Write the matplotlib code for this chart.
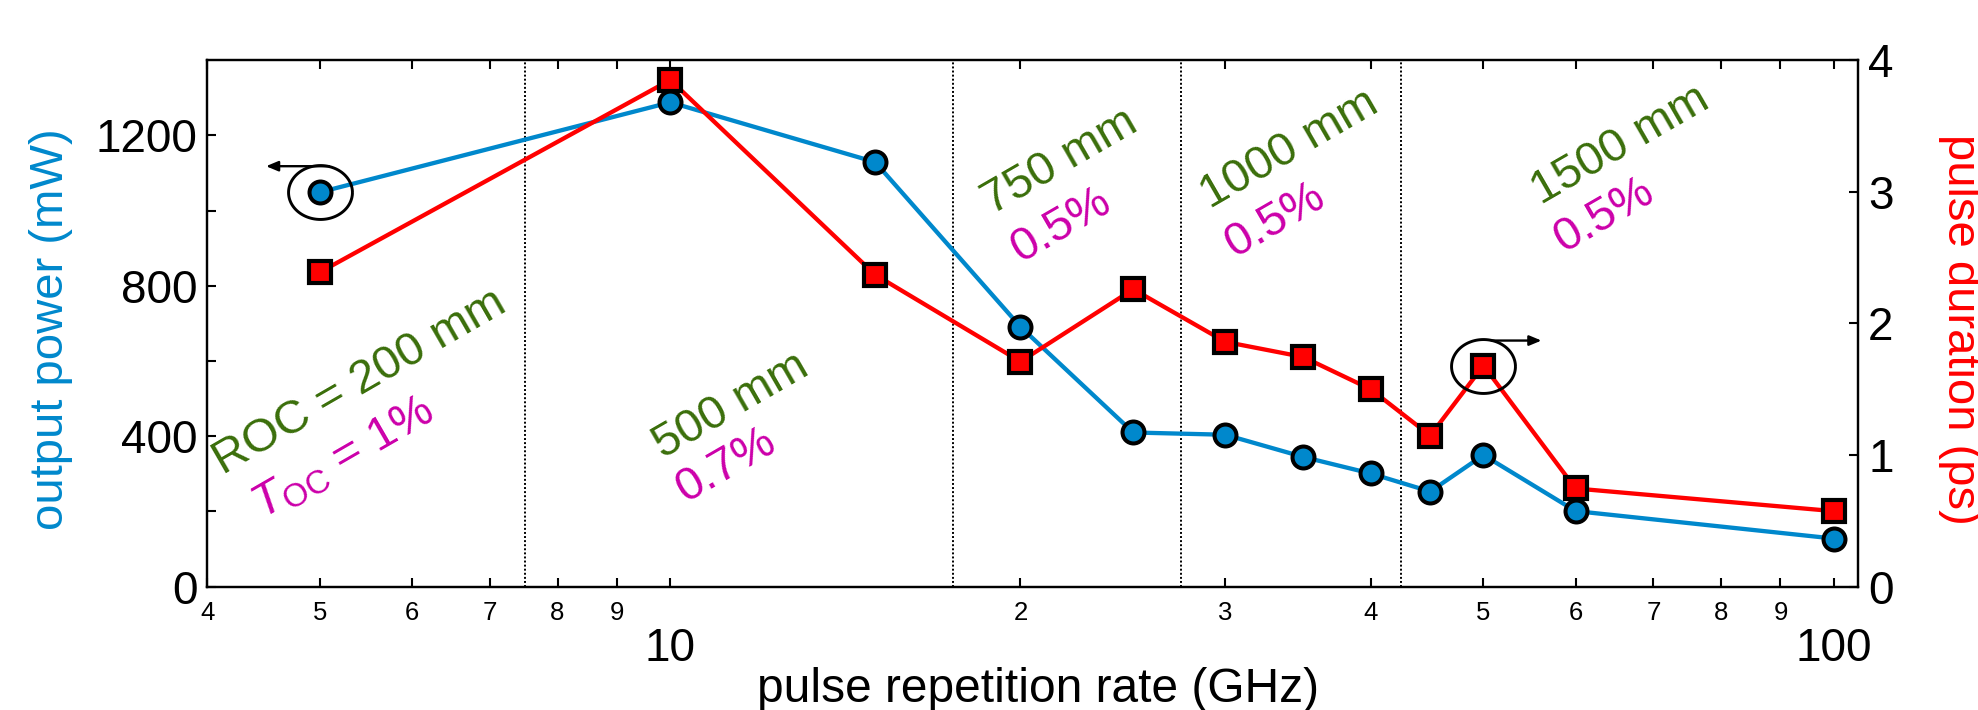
import numpy as np
import matplotlib
matplotlib.use('Agg')
import matplotlib.pyplot as plt
from matplotlib.path import Path
import matplotlib.transforms as mtransforms

plt.rcParams['font.family'] = ['Liberation Sans', 'DejaVu Sans']
plt.rcParams['mathtext.fontset'] = 'custom'
plt.rcParams['mathtext.rm'] = 'Liberation Sans'
plt.rcParams['mathtext.it'] = 'Liberation Sans:italic'

# ---------------- data ----------------
rep_rate_ghz = [5, 10, 15, 20, 25, 30, 35, 40, 45, 50, 60, 100]
output_power_mw = [1049, 1288, 1129, 691, 410, 404, 345, 301, 253, 350, 201, 128]
pulse_duration_ps = [2.39, 3.85, 2.37, 1.71, 2.26, 1.86, 1.745, 1.50, 1.148, 1.68, 0.746, 0.574]
roc_boundaries_ghz = [7.5, 17.5, 27.5, 42.5]

x_major_ticks = [10, 100]
x_major_labels = ['10', '100']
x_minor_ticks = [4, 5, 6, 7, 8, 9, 20, 30, 40, 50, 60, 70, 80, 90]
x_minor_labels = ['4', '5', '6', '7', '8', '9', '2', '3', '4', '5', '6', '7', '8', '9']
left_ticks = [0, 200, 400, 600, 800, 1000, 1200]
left_labels = ['0', '', '400', '', '800', '', '1200']
right_ticks = [0, 1, 2, 3, 4]
right_labels = ['0', '1', '2', '3', '4']

roc_labels = ['ROC = 200 mm', '500 mm', '750 mm', '1000 mm', '1500 mm']
toc_labels = [r'$\mathit{T}_{\mathrm{OC}}$ = 1%', '0.7%', '0.5%', '0.5%', '0.5%']

x_label = 'pulse repetition rate (GHz)'
left_label = 'output power (mW)'
right_label = 'pulse duration (ps)'

# ---------------- layout / style ----------------
roc_label_pos = [(4.13, 297), (9.85, 339), (18.9, 989), (29.1, 1004), (56.0, 1016)]
toc_label_pos = [(4.46, 179), (10.3, 222), (20.0, 862), (30.5, 874), (58.5, 886)]

BLUE = '#0088cc'
RED = '#ff0000'
GREEN = '#3a6e0a'
MAGENTA = '#cc00aa'

fig = plt.figure(figsize=(19.78, 7.10), dpi=100)
ax = fig.add_axes([0.1048, 0.1737, 0.8347, 0.7415])
ax.set_xscale('log')
ax.set_xlim(4, 105)
ax.set_ylim(0, 1400)

ax2 = ax.twinx()
ax2.set_ylim(0, 4)

for xb in roc_boundaries_ghz:
    ax.axvline(xb, color='k', ls=(0, (1, 1.1)), lw=1.4, zorder=1)

ax.plot(rep_rate_ghz, output_power_mw, '-', color=BLUE, lw=3.1, zorder=3)
ax.plot(rep_rate_ghz, output_power_mw, 'o', ms=15.8, mfc=BLUE, mec='k', mew=2.9, zorder=4)
ax2.plot(rep_rate_ghz, pulse_duration_ps, '-', color=RED, lw=3.1, zorder=3)
ax2.plot(rep_rate_ghz, pulse_duration_ps, 's', ms=15.5, mfc=RED, mec='k', mew=3.0, zorder=4)

# ticks
ax.set_xticks(x_major_ticks, labels=x_major_labels)
ax.set_xticks(x_minor_ticks, labels=x_minor_labels, minor=True)
ax.tick_params(axis='x', which='both', direction='in', top=True, bottom=True,
               length=6.5, width=1.5, labeltop=False)
ax.tick_params(axis='x', which='major', labelsize=33, pad=29)
ax.tick_params(axis='x', which='minor', labelsize=18.5, pad=10)
ax.set_yticks(left_ticks, labels=left_labels)
ax.tick_params(axis='y', direction='in', length=6.5, width=1.5, labelsize=33, pad=7)
ax2.set_yticks(right_ticks, labels=right_labels)
ax2.tick_params(axis='y', direction='in', length=6.5, width=1.5, labelsize=33, pad=7)
for a in (ax, ax2):
    for sp in a.spines.values():
        sp.set_linewidth(1.6)

# axis labels
ax.set_xlabel(x_label, fontsize=34.5)
ax.xaxis.label.set_va('baseline')
ax.xaxis.set_label_coords(0.503, -0.22)
ax.set_ylabel(left_label, fontsize=34, color=BLUE)
ax.yaxis.label.set_va('center')
ax.yaxis.set_label_coords(-0.0947, 0.49)
ax2.set_ylabel(right_label, fontsize=34, color=RED, rotation=270)
ax2.yaxis.label.set_va('center')
ax2.yaxis.set_label_coords(1.0615, 0.4885)

# region annotations
for s, (xx, yy) in zip(roc_labels, roc_label_pos):
    ax.text(xx, yy, s, color=GREEN, fontsize=34, rotation=30,
            rotation_mode='anchor', ha='left', va='baseline', zorder=2)
for s, (xx, yy) in zip(toc_labels, toc_label_pos):
    ax.text(xx, yy, s, color=MAGENTA, fontsize=34, rotation=30,
            rotation_mode='anchor', ha='left', va='baseline', zorder=2)

# ellipses + arrows marking which axis each series belongs to
theta = np.linspace(0, 2 * np.pi, 120)
ell = Path(np.column_stack([64 * np.cos(theta), 54 * np.sin(theta)]))
i_p = 0
i_d = 9
ax.plot([rep_rate_ghz[i_p]], [output_power_mw[i_p]], marker=ell, ms=46,
        mfc='none', mec='k', mew=2.1, ls='none', zorder=5)
ax2.plot([rep_rate_ghz[i_d]], [pulse_duration_ps[i_d]], marker=ell, ms=46,
         mfc='none', mec='k', mew=2.1, ls='none', zorder=5)

aprops = dict(arrowstyle='-|>,head_length=0.6,head_width=0.25', color='k',
              lw=1.7, mutation_scale=12, shrinkA=0, shrinkB=0)
ax.annotate('', xy=(rep_rate_ghz[i_p], output_power_mw[i_p]),
            xycoords=mtransforms.offset_copy(ax.transData, fig=fig, x=-54, y=26, units='dots'),
            xytext=(63, 0), textcoords='offset pixels', arrowprops=aprops, zorder=5)
ax2.annotate('', xy=(rep_rate_ghz[i_d], pulse_duration_ps[i_d]),
             xycoords=mtransforms.offset_copy(ax2.transData, fig=fig, x=58, y=25, units='dots'),
             xytext=(-50, 0), textcoords='offset pixels', arrowprops=aprops, zorder=5)

fig.savefig('out.png', dpi=100)
